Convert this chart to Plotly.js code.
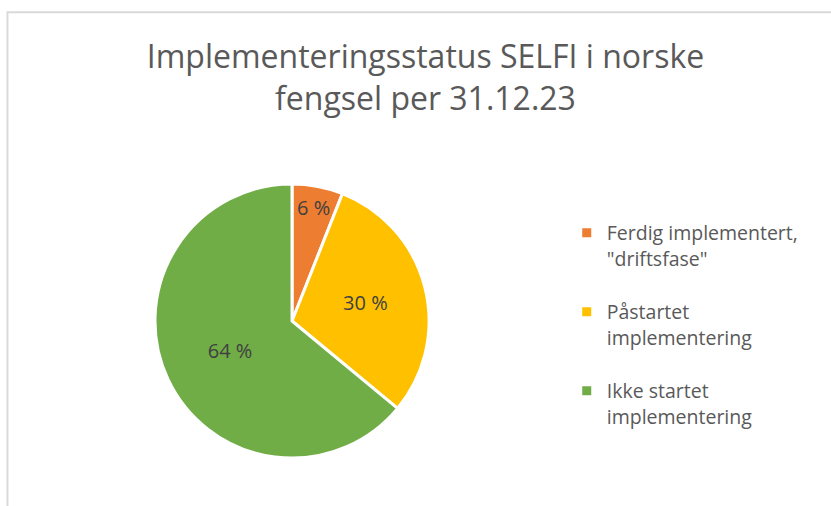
<!DOCTYPE html>
<html>
<head>
<meta charset="utf-8">
<script src="https://cdn.plot.ly/plotly-3.0.1.min.js"></script>
<style>html,body{margin:0;padding:0;background:#fff;}#chart{width:831px;height:506px;}</style>
</head>
<body>
<div id="chart"></div>
<script>
const categories = ['Ferdig implementert,<br>"driftsfase"<br> ', 'Påstartet<br>implementering<br> ', 'Ikke startet<br>implementering<br> '];
const percentValues = [6, 30, 64];
const sliceColors = ['#ED7D31', '#FFC000', '#70AD47'];
const chartTitle = 'Implementeringsstatus SELFI i norske<br>fengsel per 31.12.23';

const trace = {
  type: 'pie',
  labels: categories,
  values: percentValues,
  sort: false,
  direction: 'clockwise',
  rotation: 0,
  marker: {colors: sliceColors, line: {color: '#FFFFFF', width: 3}},
  texttemplate: '%{value} %',
  textposition: 'inside',
  insidetextorientation: 'horizontal',
  textfont: {family: 'Open Sans, sans-serif', size: 20, color: '#404040'},
  hoverinfo: 'label+percent',
  domain: {x: [0.1865, 0.5163], y: [0.0948, 0.6364]}
};

const layout = {
  width: 831, height: 506,
  margin: {l: 0, r: 0, t: 0, b: 0},
  paper_bgcolor: '#FFFFFF',
  title: {
    text: chartTitle,
    font: {family: 'Open Sans, sans-serif', size: 32, color: '#595959'},
    x: 0.512, xanchor: 'center', y: 0.865, yanchor: 'middle'
  },
  showlegend: true,
  legend: {
    x: 0.682, xanchor: 'left', y: 0.578, yanchor: 'top',
    valign: 'top',
    font: {family: 'Open Sans, sans-serif', size: 19.5, color: '#595959'},
    bgcolor: 'rgba(0,0,0,0)'
  },
  shapes: [{
    type: 'rect', xref: 'paper', yref: 'paper',
    x0: 0.009, x1: 1.01, y0: -0.05, y1: 0.976,
    line: {color: '#D9D9D9', width: 2}, fillcolor: 'rgba(0,0,0,0)'
  }]
};

Plotly.newPlot('chart', [trace], layout, {displayModeBar: false, staticPlot: true});
</script>
</body>
</html>
